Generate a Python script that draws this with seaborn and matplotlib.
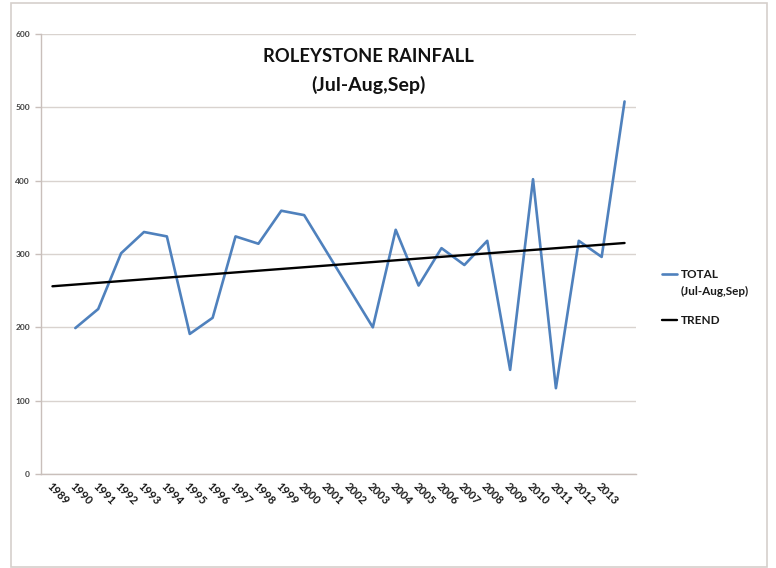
import matplotlib
matplotlib.use("Agg")
import matplotlib.pyplot as plt
import seaborn as sns
import pandas as pd
import numpy as np
from matplotlib.patches import Rectangle

# ---- data ----
categories = ['1989', '1990', '1991', '1992', '1993', '1994', '1995', '1996', '1997',
              '1998', '1999', '2000', '2001', '2002', '2003', '2004', '2005', '2006',
              '2007', '2008', '2009', '2010', '2011', '2012', '2013', '']
total_values = [np.nan, 199, 225, 301, 330, 324, 191, 213, 324, 314, 359, 353, 302,
                251, 200, 333, 257, 308, 285, 318, 142, 402, 117, 318, 296, 508]
trend_positions = [0, 25]
trend_values = [256, 315]
y_ticks = [0, 100, 200, 300, 400, 500, 600]

title_line1 = "ROLEYSTONE RAINFALL"
title_line2 = "(Jul-Aug,Sep)"
legend_total = "TOTAL"
legend_total_sub = "(Jul-Aug,Sep)"
legend_trend = "TREND"

sns.set_theme(style="white")
plt.rcParams['font.family'] = ['Lato', 'DejaVu Sans']

df_total = pd.DataFrame({"pos": np.arange(len(categories)), "value": total_values})
df_trend = pd.DataFrame({"pos": trend_positions, "value": trend_values})

fig = plt.figure(figsize=(7.76, 5.68), dpi=100)
ax = fig.add_axes([41 / 776, 1 - 474 / 568, (636 - 41) / 776, (474 - 34) / 568])

grid_col = "#D9D3CF"
axis_col = "#C9BFBB"

sns.lineplot(data=df_total.dropna(), x="pos", y="value", ax=ax, color="#4F81BD",
             linewidth=1.9, label=legend_total)
sns.lineplot(data=df_trend, x="pos", y="value", ax=ax, color="#000000",
             linewidth=1.7, label=legend_trend)

ax.set_xlim(-0.5, len(categories) - 0.5)
ax.set_ylim(0, 600)
ax.set_yticks(y_ticks)
ax.set_yticklabels([str(v) for v in y_ticks], fontsize=6, color="#404040", fontweight="bold")
ax.yaxis.grid(True, color=grid_col, linewidth=1.0)
ax.set_axisbelow(True)

ax.set_xticks(np.arange(len(categories)))
ax.set_xticklabels(categories, rotation=-45, ha="left", va="top",
                   rotation_mode="anchor", fontsize=8, fontweight="bold", color="#1a1a1a")
ax.set_xticks(np.arange(len(categories) + 1) - 0.5, minor=True)
ax.tick_params(axis="x", which="major", length=0, pad=5)
ax.tick_params(axis="x", which="minor", length=4, color=axis_col, width=1, direction="out")
ax.tick_params(axis="y", length=4, color=axis_col, width=1, direction="out", pad=4, left=True)

ax.set_xlabel("")
ax.set_ylabel("")
for s in ["top", "right"]:
    ax.spines[s].set_visible(False)
for s in ["left", "bottom"]:
    ax.spines[s].set_color(axis_col)
    ax.spines[s].set_linewidth(1.0)

ax.text(0.55, 0.95, title_line1, transform=ax.transAxes, ha="center", va="center",
        fontsize=13.2, fontweight="bold", color="#111111")
ax.text(0.55, 0.884, title_line2, transform=ax.transAxes, ha="center", va="center",
        fontsize=14, fontweight="bold", color="#111111")

leg = ax.legend(loc="center left", bbox_to_anchor=(1.025, 0.401), frameon=False,
                handlelength=1.3, handletextpad=0.3, labelspacing=2.9,
                prop={"size": 8.5, "weight": "bold"})
for t in leg.get_texts():
    t.set_color("#1a1a1a")

fig.canvas.draw()
total_txt = leg.get_texts()[0]
bb = total_txt.get_window_extent(renderer=fig.canvas.get_renderer())
x0, yc = bb.x0, (bb.y0 + bb.y1) / 2
fig.text(x0 / fig.bbox.width, (yc - 17) / fig.bbox.height, legend_total_sub,
         ha="left", va="center", fontsize=8.5, fontweight="bold", color="#1a1a1a")

fig.patches.append(Rectangle((11 / 776, 1 / 568), (767 - 11) / 776, (565 - 1) / 568,
                             transform=fig.transFigure, fill=False,
                             edgecolor="#D6D0CC", linewidth=1.2))

fig.savefig("out.png", dpi=100, facecolor="white")
